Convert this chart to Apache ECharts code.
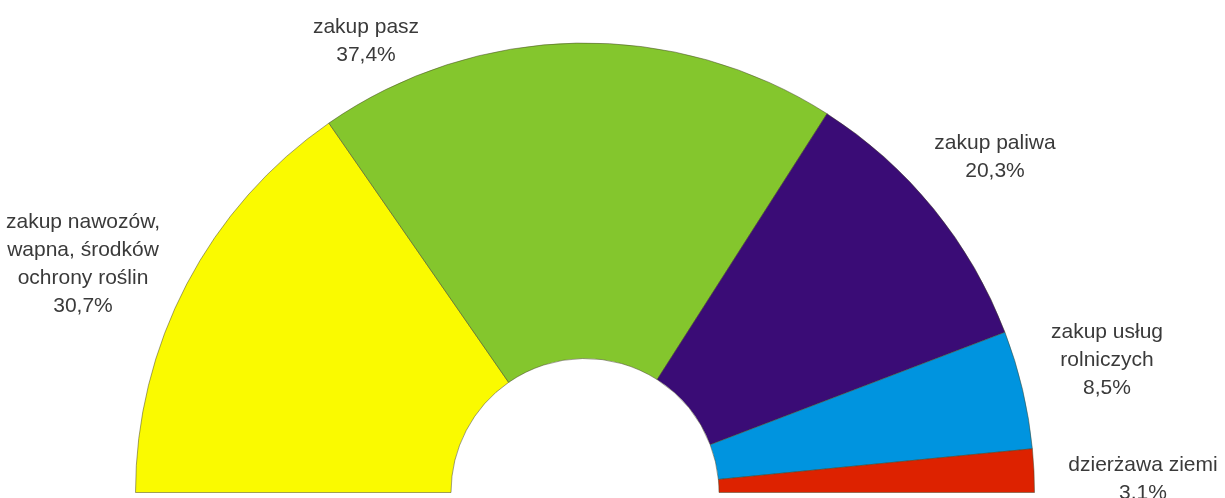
<!DOCTYPE html>
<html>
<head>
<meta charset="utf-8">
<script src="https://cdn.jsdelivr.net/npm/echarts@6/dist/echarts.min.js"></script>
<style>
html,body{margin:0;padding:0;background:#fff;}
#c{width:1225px;height:498px;}
</style>
</head>
<body>
<div id="c"></div>
<script>
const categories = ['zakup nawozów,\nwapna, środków\nochrony roślin', 'zakup pasz', 'zakup paliwa', 'zakup usług\nrolniczych', 'dzierżawa ziemi'];
const values = [30.7, 37.4, 20.3, 8.5, 3.1];
const colors = ['#FAFA00', '#84C62D', '#3A0C76', '#0094DF', '#DD2200'];
// label block centres (layout, not data)
const labelPos = [[83, 264], [366, 41], [995, 157], [1107, 360], [1143, 479]];

const fmt = v => v.toFixed(1).replace('.', ',') + '%';
const total = values.reduce((a, b) => a + b, 0);

const data = categories.map((name, i) => ({
  name, value: values[i],
  itemStyle: { color: colors[i] }
}));
data.push({
  name: '_hidden', value: total,
  itemStyle: { color: 'rgba(0,0,0,0)', borderWidth: 0 },
  label: { show: false }, emphasis: { disabled: true }, tooltip: { show: false }
});

const chart = echarts.init(document.getElementById('c'), null, { renderer: 'canvas' });
chart.setOption({
  animation: false,
  series: [{
    type: 'pie',
    center: [585, 492.5],
    radius: [134, 449.5],
    startAngle: 180,
    clockwise: true,
    avoidLabelOverlap: false,
    silent: true,
    itemStyle: { borderColor: 'rgba(70,70,40,0.5)', borderWidth: 1 },
    label: {
      show: true,
      position: 'outside',
      formatter: p => p.name + '\n' + fmt(p.value),
      fontFamily: 'Liberation Sans, Arial, sans-serif',
      fontSize: 21,
      lineHeight: 28,
      color: '#3a3a3a',
      align: 'center'
    },
    labelLine: { show: false },
    labelLayout: params => {
      const p = labelPos[params.dataIndex];
      if (!p) return {};
      return { x: p[0], y: p[1], align: 'center', verticalAlign: 'middle' };
    },
    data
  }]
});
</script>
</body>
</html>
